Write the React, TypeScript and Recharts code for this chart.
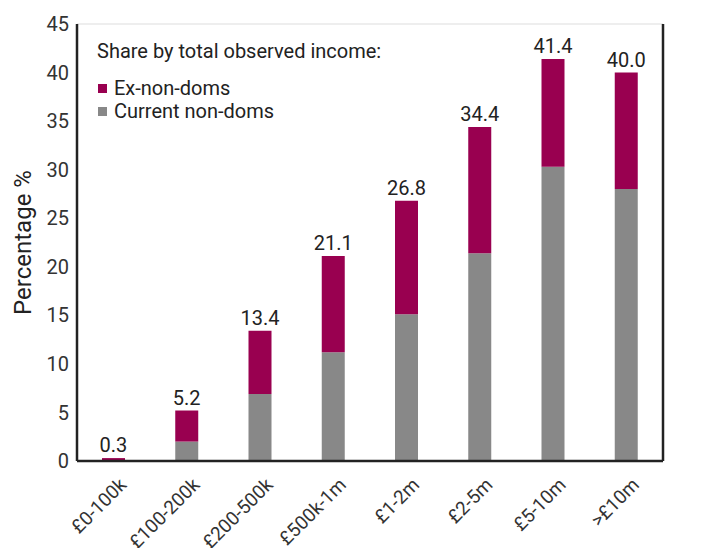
import React from "react";
import { BarChart, Bar, XAxis, YAxis, CartesianGrid, Legend, LabelList } from "recharts";

const categories = ["£0-100k", "£100-200k", "£200-500k", "£500k-1m", "£1-2m", "£2-5m", "£5-10m", ">£10m"];
const currentNonDoms = [0.0, 2.0, 6.9, 11.2, 15.1, 21.4, 30.3, 28.0];
const exNonDoms = [0.3, 3.2, 6.5, 9.9, 11.7, 13.0, 11.1, 12.0];
const totals = [0.3, 5.2, 13.4, 21.1, 26.8, 34.4, 41.4, 40.0];
const yTicks = [0, 5, 10, 15, 20, 25, 30, 35, 40, 45];

const PURPLE = "#990050";
const GREY = "#888888";
const FONT = "Roboto, 'Noto Sans', sans-serif";

const data = categories.map((c, i) => ({
  name: c,
  current: currentNonDoms[i],
  ex: exNonDoms[i],
  total: totals[i],
}));

const LegendContent = () => (
  <div style={{ fontFamily: FONT, fontSize: 20, color: "#222", lineHeight: "23px", whiteSpace: "nowrap" }}>
    <div style={{ marginBottom: 14 }}>Share by total observed income:</div>
    {[
      { label: "Ex-non-doms", color: PURPLE },
      { label: "Current non-doms", color: GREY },
    ].map((it) => (
      <div key={it.label} style={{ display: "flex", alignItems: "center" }}>
        <span style={{ display: "inline-block", width: 9, height: 9, background: it.color, marginRight: 7, marginLeft: 1 }} />
        <span>{it.label}</span>
      </div>
    ))}
  </div>
);

const XTick = (props: any) => {
  const { x, y, payload } = props;
  const ax = x + 14;
  const ay = y + 17;
  return (
    <text
      x={ax}
      y={ay}
      textAnchor="end"
      transform={`rotate(-45 ${ax} ${ay})`}
      fill="#333"
      fontSize={19}
      fontFamily={FONT}
    >
      {payload.value}
    </text>
  );
};

export default function App() {
  return (
    <div style={{ position: "absolute", left: 0, top: 0, width: 708, height: 548, background: "#fff" }}>
      <BarChart
        width={708}
        height={548}
        data={data}
        margin={{ top: 24, right: 0, bottom: 0, left: 0 }}
        barSize={23}
      >
        <CartesianGrid vertical={false} stroke="#e8e8e8" strokeWidth={1.5} />
        <XAxis
          dataKey="name"
          height={87}
          interval={0}
          tick={<XTick />}
          tickLine={false}
          axisLine={{ stroke: "#222", strokeWidth: 2.5 }}
        />
        <YAxis
          yAxisId="left"
          orientation="left"
          width={77}
          domain={[0, 45]}
          ticks={yTicks}
          interval={0}
          tickLine={false}
          axisLine={{ stroke: "#222", strokeWidth: 2.5 }}
          tick={{ fill: "#333", fontSize: 20, fontFamily: FONT }}
          label={{
            value: "Percentage %",
            angle: -90,
            position: "insideLeft",
            offset: 22,
            style: { textAnchor: "middle", fill: "#222", fontSize: 24, fontFamily: FONT },
          }}
        />
        <YAxis
          yAxisId="right"
          orientation="right"
          width={45}
          domain={[0, 45]}
          ticks={yTicks}
          interval={0}
          tickLine={false}
          axisLine={{ stroke: "#222", strokeWidth: 2.5 }}
          tick={{ fill: "#333", fontSize: 20, fontFamily: FONT, textAnchor: "start" }}
        />
        <Legend
          layout="vertical"
          align="center"
          verticalAlign="middle"
          content={<LegendContent />}
          wrapperStyle={{ position: "absolute", left: 97, top: 40, width: "auto", height: "auto" }}
        />
        <Bar yAxisId="left" dataKey="current" stackId="a" fill={GREY} isAnimationActive={false} />
        <Bar yAxisId="left" dataKey="ex" stackId="a" fill={PURPLE} isAnimationActive={false}>
          <LabelList
            dataKey="total"
            position="top"
            offset={6}
            formatter={(v: any) => Number(v).toFixed(1)}
            style={{ fill: "#222", fontSize: 20, fontFamily: FONT }}
          />
        </Bar>
      </BarChart>
    </div>
  );
}
